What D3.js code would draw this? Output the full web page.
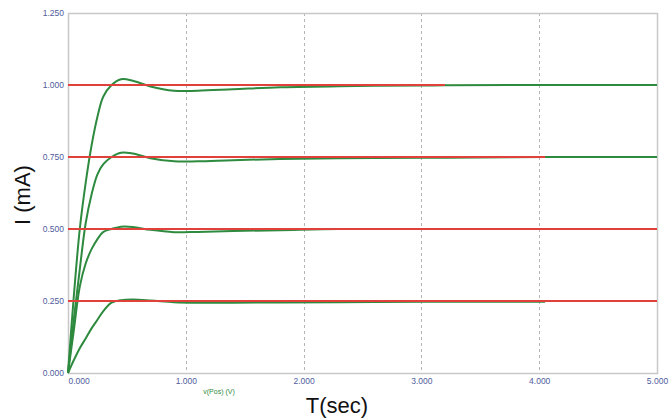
<!DOCTYPE html>
<html>
<head>
<meta charset="utf-8">
<script src="https://cdn.jsdelivr.net/npm/d3@7"></script>
<style>
  body { margin: 0; background: #fff; }
  svg { display: block; font-family: "Liberation Sans", Arial, sans-serif; }
</style>
</head>
<body>
<div id="viz"></div>
<script>
const colorRed = '#e0413b';
const colorGreen = '#2d8a3e';
const colorTick = '#4f5c9c';

// time samples (sec)
const times = [0, 0.05, 0.1, 0.15, 0.2, 0.25, 0.3, 0.37, 0.45, 0.55, 0.7, 0.9, 1.1, 1.4, 1.8, 2.3, 3.0, 3.2, 4.05, 5.0];

// responses (mA)
const resp100 = [0, 0.27, 0.50, 0.66, 0.79, 0.89, 0.96, 1.00, 1.02, 1.015, 0.995, 0.980, 0.980, 0.985, 0.992, 0.996, 0.998, 0.999, 1.0, 1.0];
const resp075 = [0, 0.19, 0.36, 0.52, 0.62, 0.69, 0.725, 0.75, 0.765, 0.762, 0.746, 0.735, 0.735, 0.739, 0.743, 0.746, 0.747, 0.747, 0.75, 0.75];
const resp050 = [0, 0.15, 0.30, 0.38, 0.43, 0.465, 0.49, 0.50, 0.508, 0.507, 0.497, 0.489, 0.490, 0.493, 0.496, 0.5, 0.5, 0.5, 0.5, 0.5];
const resp025 = [0, 0.045, 0.086, 0.12, 0.155, 0.185, 0.215, 0.244, 0.253, 0.255, 0.252, 0.246, 0.244, 0.244, 0.245, 0.246, 0.247, 0.247, 0.247];

// setpoints and where each red line stops
const levels = [1.0, 0.75, 0.5, 0.25];
const levelEnds = [3.2, 4.05, 5.0, 5.0];

const xTicks = [0, 1, 2, 3, 4, 5];
const yTicks = [0, 0.25, 0.5, 0.75, 1.0, 1.25];

function createViz(){
  const dimensions = {
    width: 669,
    height: 419,
    margin: { top: 13, right: 12, bottom: 46, left: 68 }
  };
  dimensions.boundedWidth = dimensions.width - dimensions.margin.left - dimensions.margin.right;
  dimensions.boundedHeight = dimensions.height - dimensions.margin.top - dimensions.margin.bottom;

  const svg = d3.select('#viz').append('svg')
    .attr('width', dimensions.width)
    .attr('height', dimensions.height);

  const chart = svg.append('g')
    .attr('transform', `translate(${dimensions.margin.left},${dimensions.margin.top})`);

  const xScale = d3.scaleLinear().domain([0, 5]).range([0, dimensions.boundedWidth]);
  const yScale = d3.scaleLinear().domain([0, 1.25]).range([dimensions.boundedHeight, 0]);

  // vertical dashed grid
  chart.append('g').selectAll('line')
    .data(xTicks.slice(1, -1))
    .join('line')
    .attr('x1', d => Math.round(xScale(d)) + 0.5)
    .attr('x2', d => Math.round(xScale(d)) + 0.5)
    .attr('y1', 0)
    .attr('y2', dimensions.boundedHeight)
    .attr('stroke', '#b4b4b4')
    .attr('stroke-dasharray', '3,3');

  // frame
  chart.append('rect')
    .attr('x', 0.5).attr('y', 0.5)
    .attr('width', dimensions.boundedWidth)
    .attr('height', dimensions.boundedHeight)
    .attr('fill', 'none')
    .attr('stroke', '#c8c8c8')
    .attr('stroke-width', 1.5);

  // axes (labels only)
  const xAxis = chart.append('g')
    .attr('transform', `translate(0,${dimensions.boundedHeight})`)
    .call(d3.axisBottom(xScale).tickValues(xTicks).tickFormat(d3.format('.3f')).tickSize(0).tickPadding(5));
  xAxis.select('.domain').remove();
  xAxis.selectAll('text')
    .attr('fill', colorTick)
    .style('font-size', '8.5px')
    .attr('text-anchor', (d, i) => i === 0 ? 'start' : 'middle');

  const yAxis = chart.append('g')
    .call(d3.axisLeft(yScale).tickValues(yTicks).tickFormat(d3.format('.3f')).tickSize(0).tickPadding(4));
  yAxis.select('.domain').remove();
  yAxis.selectAll('text')
    .attr('fill', colorTick)
    .style('font-size', '8.5px');

  const line = d3.line()
    .x(d => xScale(d[0]))
    .y(d => yScale(d[1]))
    .curve(d3.curveCatmullRom.alpha(0.5));

  const series = [resp100, resp075, resp050, resp025];
  series.forEach(values => {
    chart.append('path')
      .datum(values.map((v, i) => [times[i], v]))
      .attr('d', line)
      .attr('fill', 'none')
      .attr('stroke', colorGreen)
      .attr('stroke-width', 2);
  });

  levels.forEach((lv, i) => {
    chart.append('line')
      .attr('x1', xScale(0))
      .attr('x2', xScale(levelEnds[i]))
      .attr('y1', yScale(lv))
      .attr('y2', yScale(lv))
      .attr('stroke', colorRed)
      .attr('stroke-width', 2);
  });

  // labels
  svg.append('text')
    .attr('x', 219).attr('y', 394)
    .attr('text-anchor', 'middle')
    .attr('fill', colorGreen)
    .style('font-size', '7px')
    .text('v(Pos) (V)');

  svg.append('text')
    .attr('x', 337).attr('y', 413)
    .attr('text-anchor', 'middle')
    .attr('fill', '#111')
    .style('font-size', '22px')
    .text('T(sec)');

  svg.append('text')
    .attr('transform', 'translate(30,195) rotate(-90)')
    .attr('text-anchor', 'middle')
    .attr('fill', '#111')
    .style('font-size', '22px')
    .text('I (mA)');
}

createViz();
</script>
</body>
</html>
